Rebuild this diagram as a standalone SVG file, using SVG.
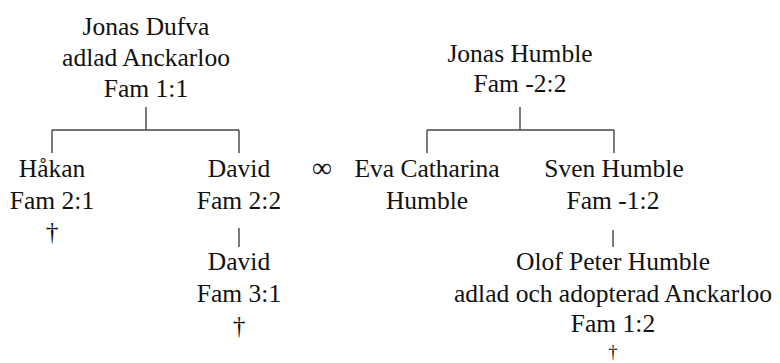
<svg xmlns="http://www.w3.org/2000/svg" width="780" height="363" viewBox="0 0 780 363">
<style>
text{font-family:"Liberation Serif","Times New Roman",serif;font-size:25.5px;fill:#111;text-anchor:middle}
.inf{font-size:28px}
.sm{font-size:18px}
.c line{stroke:#444;stroke-width:1.4}
</style>
<rect width="780" height="363" fill="#fff"/>
<g class="c" id="connectors">
<line x1="146" y1="107" x2="146" y2="130"/>
<line x1="52" y1="130" x2="239" y2="130"/>
<line x1="52" y1="130" x2="52" y2="153"/>
<line x1="239" y1="130" x2="239" y2="153"/>
<line x1="239" y1="228" x2="239" y2="247"/>
<line x1="520" y1="107" x2="520" y2="130"/>
<line x1="427" y1="130" x2="614" y2="130"/>
<line x1="427" y1="130" x2="427" y2="153"/>
<line x1="614" y1="130" x2="614" y2="153"/>
<line x1="613" y1="230" x2="613" y2="247"/>
</g>
<g id="jonas-dufva"><text x="146" y="35">Jonas Dufva</text><text x="146" y="66">adlad Anckarloo</text><text x="146" y="97">Fam 1:1</text></g>
<g id="hakan"><text x="52" y="177">Håkan</text><text x="52" y="209">Fam 2:1</text><text x="52" y="240">†</text></g>
<g id="david-22"><text x="239" y="177">David</text><text x="239" y="209">Fam 2:2</text></g>
<g id="david-31"><text x="239" y="270">David</text><text x="239" y="302">Fam 3:1</text><text x="239" y="334">†</text></g>
<g id="marriage"><text class="inf" x="322" y="177">∞</text></g>
<g id="jonas-humble"><text x="520" y="62">Jonas Humble</text><text x="520" y="92">Fam -2:2</text></g>
<g id="eva"><text x="427" y="177">Eva Catharina</text><text x="427" y="209">Humble</text></g>
<g id="sven"><text x="614" y="177">Sven Humble</text><text x="613" y="209">Fam -1:2</text></g>
<g id="olof"><text x="613" y="270">Olof Peter Humble</text><text x="613" y="302">adlad och adopterad Anckarloo</text><text x="613" y="332">Fam 1:2</text><text class="sm" x="613" y="358">†</text></g>
</svg>
